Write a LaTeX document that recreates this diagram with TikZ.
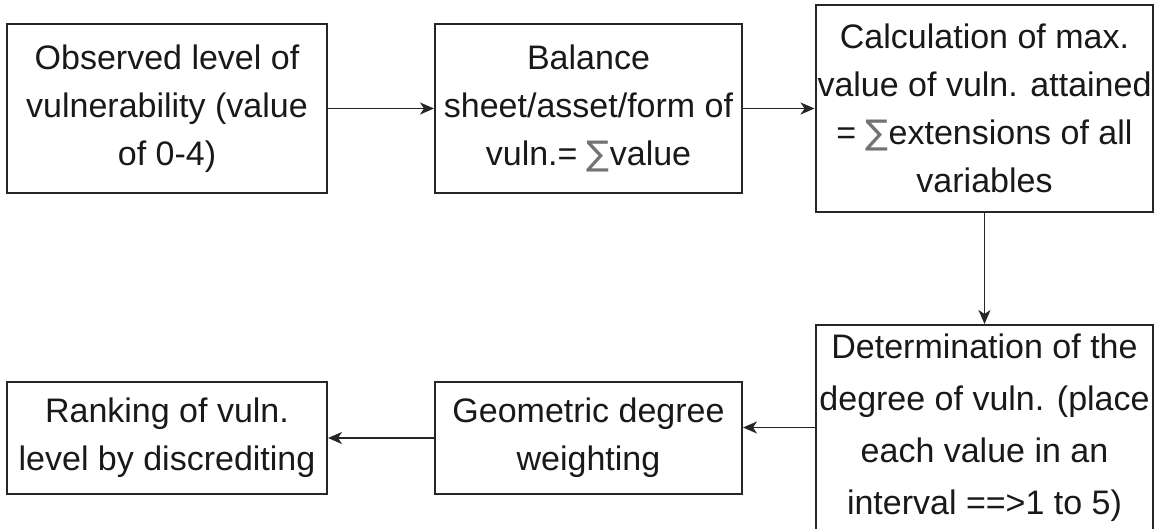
\documentclass[tikz,border=0pt]{standalone}
\usepackage{fontspec}
\setmainfont{Liberation Sans}
\newfontfamily\symfont{DejaVu Sans}
\usetikzlibrary{arrows.meta}

\newcommand{\nsum}{{\symfont\color{black!55}∑}}

\begin{document}
\begin{tikzpicture}[x=1pt,y=1pt,
  stagebox/.style={draw=black!85, line width=2pt, rectangle, align=center,
    inner sep=2pt, font=\fontsize{34}{48}\selectfont, text=black!90},
  flow/.style={draw=black!85, line width=1.8pt,
    -{Stealth[length=14pt,width=12pt,inset=4pt]}}]
  \useasboundingbox (0,0) rectangle (1173,-529);
  \clip (0,0) rectangle (1173,-529);
  \fill[white] (0,0) rectangle (1173,-529);

  % top row
  \node[stagebox, minimum width=320, minimum height=169] (obs) at (167,-108.5)
    {Observed level of\\vulnerability (value\\of 0-4)};
  \node[stagebox, minimum width=307, minimum height=169] (bal) at (588.5,-108.5)
    {Balance\\sheet/asset/form of\\vuln.= \nsum value};
  \node[stagebox, minimum width=337, minimum height=207] (calc) at (984.5,-108.5)
    {Calculation of max.\\value of vuln. attained\\= \nsum extensions of all\\variables};

  % bottom row
  \node[stagebox, minimum width=337, minimum height=205,
        font=\fontsize{34}{52}\selectfont] (deg) at (984.5,-427.5)
    {Determination of the\\degree of vuln. (place\\each value in an\\interval ==>1 to 5)};
  \node[stagebox, minimum width=307, minimum height=112] (geo) at (588.5,-438)
    {Geometric degree\\weighting};
  \node[stagebox, minimum width=320, minimum height=112] (rank) at (167,-438)
    {Ranking of vuln.\\level by discrediting};

  % connectors
  \draw[flow] (obs.east) -- (bal.west);
  \draw[flow] (bal.east) -- (calc.west);
  \draw[flow] (calc.south) -- (deg.north);
  \draw[flow] (deg.west) -- (deg.west -| geo.east);
  \draw[flow] (geo.west) -- (rank.east);
\end{tikzpicture}
\end{document}
